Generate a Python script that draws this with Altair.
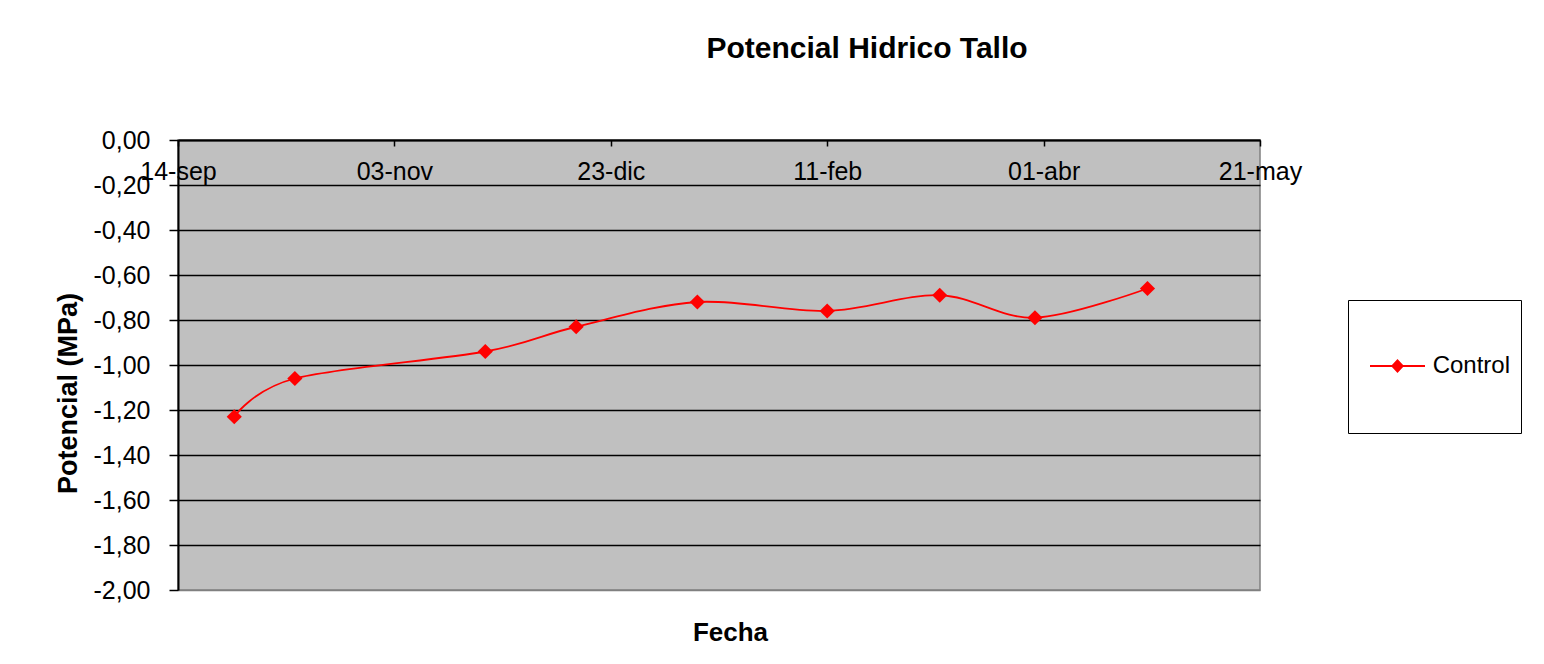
import altair as alt
import pandas as pd

# ---------------- data ----------------
dates = ["2007-09-27", "2007-10-11", "2007-11-24", "2007-12-15", "2008-01-12",
         "2008-02-11", "2008-03-08", "2008-03-30", "2008-04-25"]
control = [-1.23, -1.06, -0.94, -0.83, -0.72, -0.76, -0.69, -0.79, -0.66]
series_name = "Control"
x_tick_dates = ["2007-09-14", "2007-11-03", "2007-12-23", "2008-02-11",
                "2008-04-01", "2008-05-21"]
month_abbr = ["ene", "feb", "mar", "abr", "may", "jun", "jul", "ago",
              "sep", "oct", "nov", "dic"]
y_ticks = [0.0, -0.2, -0.4, -0.6, -0.8, -1.0, -1.2, -1.4, -1.6, -1.8, -2.0]
title_text = "Potencial Hidrico Tallo"
x_title = "Fecha"
y_title = "Potencial (MPa)"

df = pd.DataFrame({"fecha": dates, "valor": control,
                   "serie": [series_name] * len(dates)})


def dt(s):
    y, m, d = map(int, s.split("-"))
    return alt.DateTime(year=y, month=m, date=d, utc=True)


FONT = "Liberation Sans"
W, H = 1082, 450
RED = "#ff0000"

month_js = "[" + ",".join(f"'{m}'" for m in month_abbr) + "]"
x_label_expr = f"utcFormat(datum.value, '%d') + '-' + {month_js}[utcmonth(datum.value)]"
y_label_expr = ("(datum.value < -0.0001 ? '-' : '') + "
                "replace(format(abs(datum.value), '.2f'), '.', ',')")

x_enc = alt.X(
    "fecha:T",
    scale=alt.Scale(type="utc", domain=[dt(x_tick_dates[0]), dt(x_tick_dates[-1])],
                    nice=False),
    axis=alt.Axis(
        orient="bottom", offset=-H,
        values=[dt(s) for s in x_tick_dates],
        labelExpr=x_label_expr, labelFlush=False, labelOverlap=False,
        labelFont=FONT, labelFontSize=25, labelColor="black", labelPadding=13,
        tickColor="black", tickSize=6, tickWidth=1.5,
        domainColor="black", domainWidth=2, grid=False,
        title=x_title, titleFont=FONT, titleFontSize=26, titleFontWeight="bold",
        titleColor="black", titleX=552, titleY=500, titleBaseline="alphabetic",
        titleAlign="center", titleAngle=0,
    ),
)

y_enc = alt.Y(
    "valor:Q",
    scale=alt.Scale(domain=[-2, 0], nice=False, zero=False),
    axis=alt.Axis(
        values=y_ticks, labelExpr=y_label_expr,
        labelFont=FONT, labelFontSize=25, labelColor="black", labelPadding=19,
        tickColor="black", tickSize=9, tickWidth=1.5,
        domainColor="black", domainWidth=2,
        grid=True, gridWidth=1.5,
        gridColor={"condition": {"test": "datum.value <= -1.99", "value": "#808080"},
                   "value": "black"},
        title=y_title, titleFont=FONT, titleFontSize=27, titleFontWeight="bold",
        titleColor="black", titleX=-102, titleY=253, titleBaseline="alphabetic",
        titleAlign="center", titleAngle=270,
    ),
)

base = alt.Chart(df).encode(x=x_enc, y=y_enc)

line = base.mark_line(color=RED, strokeWidth=1.8, interpolate="cardinal")

# legend key: short red line with a diamond, drawn as one filled path
# (plus a vanishingly small anchor point that makes the legend box taller)
legend_symbol = ("M-0.8,-0.018L0.2,-0.018L0.2,0.018L-0.8,0.018Z"
                 "M-0.418,0L-0.3,-0.127L-0.182,0L-0.3,0.127Z"
                 "M-0.3,1L-0.2999,1L-0.3,1.0001Z")

points = base.mark_point(filled=True, size=230, opacity=1, shape="diamond").encode(
    color=alt.Color(
        "serie:N",
        scale=alt.Scale(domain=[series_name], range=[RED]),
        legend=alt.Legend(
            title=None, orient="none", legendX=1170, legendY=160,
            symbolType=legend_symbol, symbolSize=12100, symbolStrokeWidth=0,
            labelAlign="right", labelOffset=41,
            labelFont=FONT, labelFontSize=24, labelColor="black",
            padding=11, strokeColor="black", fillColor="white",
        ),
    )
)

chart = alt.layer(line, points).properties(
    width=W, height=H,
    autosize="none",
    background="white",
    padding={"left": 170, "top": 132, "right": 276, "bottom": 66},
    title=alt.TitleParams(
        text=title_text, font=FONT, fontSize=30, fontWeight="bold", color="black",
        anchor="middle", frame="group", dx=148, offset=40, baseline="alphabetic",
    ),
).configure_view(
    fill="#c0c0c0", stroke="#808080", strokeWidth=1.5,
)

chart.save("out.html", embed_options={"renderer": "svg", "actions": False})
